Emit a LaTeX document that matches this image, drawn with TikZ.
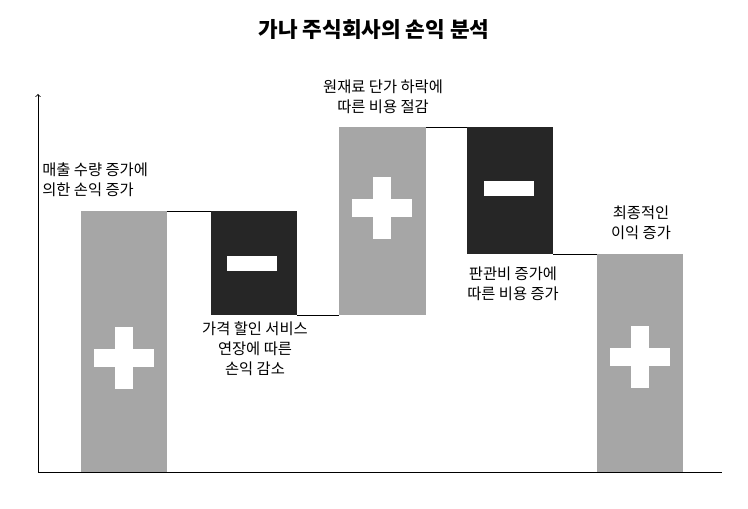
\documentclass[tikz,border=0pt]{standalone}
\usepackage{fontspec}
\setmainfont{Noto Sans CJK KR}
\begin{document}
\begin{tikzpicture}[x=0.75pt,y=-0.75pt,
  graybar/.style={fill=black!35,draw=none},
  darkbar/.style={fill=black!85,draw=none},
  sym/.style={fill=white,draw=none},
  conn/.style={draw=black,line width=0.6pt},
  lbl/.style={font=\fontsize{11.5pt}{15pt}\selectfont,align=center,inner sep=0pt}]
\fill[white] (0,0) rectangle (748,509);
\useasboundingbox (0,0) rectangle (748,509);
\node[font=\bfseries\fontsize{16pt}{18pt}\selectfont] (title) at (374,30) {가나 주식회사의 손익 분석};
\coordinate (o) at (38,472);
\coordinate (ytop) at (38,94);
\coordinate (xend) at (722,472);
\draw[line width=0.6pt,->] (o) -- (ytop);
\draw[line width=0.6pt] (o) -- (xend);
% bars
\path[graybar] (81,211) rectangle (167,472);
\path[darkbar] (211,211) rectangle (297,315);
\path[graybar] (339,127) rectangle (426,315);
\path[darkbar] (467,127) rectangle (553,254);
\path[graybar] (597,254) rectangle (683,472);
% connectors
\coordinate (c1a) at (167,211); \coordinate (c1b) at (211,211);
\coordinate (c2a) at (297,315); \coordinate (c2b) at (339,315);
\coordinate (c3a) at (426,127); \coordinate (c3b) at (467,127);
\coordinate (c4a) at (553,254); \coordinate (c4b) at (597,254);
\draw[conn] (c1a)--(c1b); \draw[conn] (c2a)--(c2b);
\draw[conn] (c3a)--(c3b); \draw[conn] (c4a)--(c4b);
% plus signs
\foreach \cx/\cy in {124/358,382/208,640/357}{
  \path[sym] (\cx-30,\cy-9) rectangle (\cx+30,\cy+9);
  \path[sym] (\cx-9,\cy-31) rectangle (\cx+9,\cy+31);
}
% minus signs
\path[sym] (227,256) rectangle (277,271);
\path[sym] (484,181) rectangle (534,196);
% labels
\node[lbl,align=left,anchor=west] (l1) at (42,180) {매출 수량 증가에\\의한 손익 증가};
\node[lbl] (l2) at (255,349) {가격 할인 서비스\\연장에 따른\\손익 감소};
\node[lbl] (l3) at (383,97) {원재료 단가 하락에\\따른 비용 절감};
\node[lbl] (l4) at (513,284) {판관비 증가에\\따른 비용 증가};
\node[lbl] (l5) at (641,223) {최종적인\\이익 증가};
\end{tikzpicture}
\end{document}
